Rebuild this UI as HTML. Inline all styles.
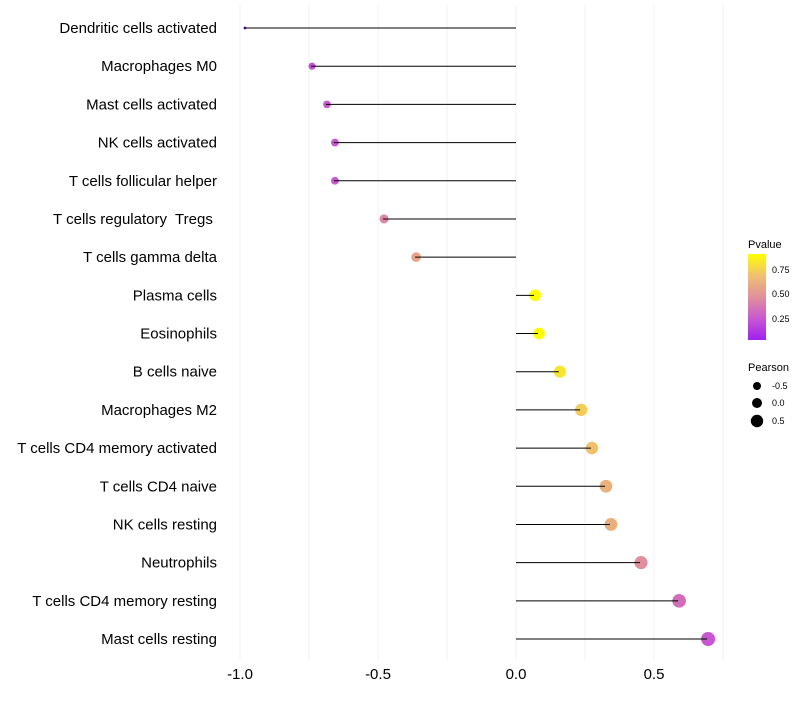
<!DOCTYPE html>
<html><head><meta charset="utf-8"><style>
body{margin:0;background:#fff;font-family:"Liberation Sans",sans-serif;}
text{white-space:pre;}
</style></head><body>
<svg id="chart" width="800" height="700" xmlns="http://www.w3.org/2000/svg">
<defs><linearGradient id="pg" x1="0" y1="1" x2="0" y2="0">
<stop offset="0" stop-color="#a020f0"/><stop offset="0.25" stop-color="#c858d0"/><stop offset="0.5" stop-color="#e0909a"/><stop offset="0.75" stop-color="#f0c070"/><stop offset="1" stop-color="#ffff00"/>
</linearGradient></defs>
<g id="grid"></g><g id="marks"></g><g id="labels"></g>
<g>
<text x="748" y="248" font-size="11">Pvalue</text>
<rect x="748" y="254" width="18" height="86" fill="url(#pg)"/>
<text x="772" y="273" font-size="9">0.75</text>
<text x="772" y="297" font-size="9">0.50</text>
<text x="772" y="322" font-size="9">0.25</text>
</g>
<g>
<text x="748" y="371" font-size="11">Pearson</text>
<circle cx="757" cy="386" r="4" fill="#000"/>
<circle cx="757" cy="403" r="5" fill="#000"/>
<circle cx="757" cy="421" r="6.2" fill="#000"/>
<text x="772" y="389" font-size="9">-0.5</text>
<text x="772" y="406" font-size="9">0.0</text>
<text x="772" y="424" font-size="9">0.5</text>
</g>
</svg>
<script>
const categories=["Dendritic cells activated","Macrophages M0","Mast cells activated","NK cells activated","T cells follicular helper","T cells regulatory  Tregs ","T cells gamma delta","Plasma cells","Eosinophils","B cells naive","Macrophages M2","T cells CD4 memory activated","T cells CD4 naive","NK cells resting","Neutrophils","T cells CD4 memory resting","Mast cells resting"];
const pearson=[-0.982,-0.739,-0.685,-0.656,-0.656,-0.478,-0.362,0.069,0.083,0.159,0.236,0.275,0.326,0.344,0.453,0.591,0.696];
const pvalues=[0.03,0.22,0.25,0.25,0.25,0.42,0.55,0.89,0.89,0.8,0.72,0.68,0.61,0.6,0.46,0.33,0.24];
const xTicks=[-1,-0.5,0,0.5];
const xTickLabels=["-1.0","-0.5","0.0","0.5"];
const NS="http://www.w3.org/2000/svg";
const x=v=>516+v*276;
const y=i=>28+i*(611/16);
const rad=v=>1.5+5.5*Math.sqrt(Math.max(0,v+0.98)/1.68);
const stops=[[0,[160,32,240]],[0.25,[200,88,208]],[0.5,[224,144,154]],[0.75,[240,192,112]],[1,[255,255,0]]];
function col(p){let t=Math.min(1,Math.max(0,(p-0.03)/0.86));for(let k=1;k<stops.length;k++){if(t<=stops[k][0]){const a=stops[k-1],b=stops[k];const f=(t-a[0])/(b[0]-a[0]);const c=a[1].map((v,j)=>Math.round(v+(b[1][j]-v)*f));return `rgb(${c})`;}}return "rgb(255,255,0)";}
function mk(tag,attrs,parent){const e=document.createElementNS(NS,tag);for(const k in attrs)e.setAttribute(k,attrs[k]);parent.appendChild(e);return e;}
const grid=document.getElementById('grid'),marks=document.getElementById('marks'),labels=document.getElementById('labels');
[-1,-0.75,-0.5,-0.25,0,0.25,0.5,0.75].forEach(v=>{
const l=mk('line',{x1:x(v),x2:x(v),y1:5,y2:660,stroke:'#f0f0f0','stroke-width':1},grid);


});
categories.forEach((c,i)=>{
const d=mk('circle',{cx:x(pearson[i]),cy:y(i),r:rad(pearson[i]),fill:col(pvalues[i])},marks);


const s=mk('line',{x1:x(0),x2:x(pearson[i])-1,y1:y(i),y2:y(i),stroke:'#000','stroke-width':1},marks);


const t=mk('text',{x:217,y:y(i)+5,'text-anchor':'end','font-size':15,fill:'#000'},labels);
t.textContent=c;


});
xTicks.forEach((v,i)=>{
const t=mk('text',{x:x(v),y:679,'text-anchor':'middle','font-size':15,fill:'#000'},labels);
t.textContent=xTickLabels[i];


});
</script>
</body></html>
